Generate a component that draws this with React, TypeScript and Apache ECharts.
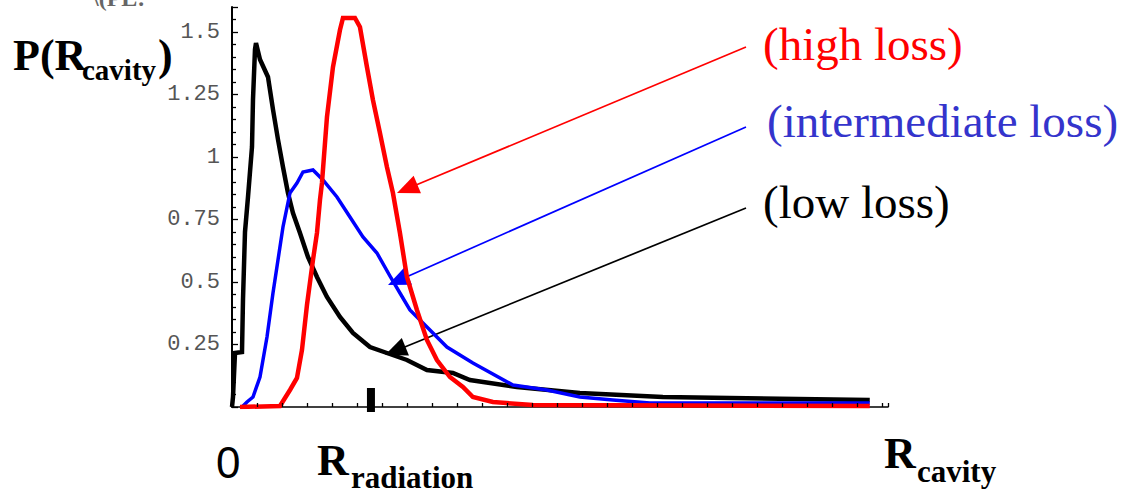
import { useEffect, useRef } from "react";
import * as echarts from "echarts";

// Distributions of the cavity radius P(R_cavity) for three loss regimes.
// x in axis units (R), y in probability density.
const lowLoss: [number, number][] = [
  [0, 0], [0.04, 0.04], [0.12, 0.216], [0.4, 0.22], [0.44, 0.43], [0.52, 0.7],
  [0.64, 0.84], [0.8, 1.04], [0.84, 1.23], [0.92, 1.43], [0.96, 1.456],
  [1.12, 1.39], [1.44, 1.32], [1.64, 1.19], [1.84, 1.07], [2.04, 0.96],
  [2.24, 0.856], [2.44, 0.776], [2.72, 0.696], [3.04, 0.6], [3.4, 0.52],
  [3.8, 0.44], [4.32, 0.36], [4.84, 0.296], [5.52, 0.24], [6.2, 0.216],
  [7.0, 0.188], [7.8, 0.148], [8.84, 0.136], [9.52, 0.108], [11.4, 0.08],
  [13.92, 0.056], [17.24, 0.04], [19.92, 0.036], [25.52, 0.028],
];

const intermediateLoss: [number, number][] = [
  [0.4, 0], [0.6, 0.02], [0.84, 0.04], [1.12, 0.12], [1.4, 0.28], [1.64, 0.456],
  [1.84, 0.588], [2.04, 0.72], [2.32, 0.856], [2.6, 0.896], [2.84, 0.94],
  [3.24, 0.948], [3.64, 0.908], [4.2, 0.84], [4.72, 0.76], [5.24, 0.68],
  [5.8, 0.616], [6.32, 0.524], [6.72, 0.456], [7.12, 0.388], [7.64, 0.336],
  [8.6, 0.24], [9.64, 0.176], [11.24, 0.088], [12.6, 0.068], [13.92, 0.04],
  [15.24, 0.028], [16.72, 0.016], [25.52, 0.016],
];

const highLoss: [number, number][] = [
  [0.32, 0], [1.92, 0.004], [2.32, 0.068], [2.6, 0.116], [2.8, 0.228],
  [3.0, 0.408], [3.24, 0.588], [3.4, 0.696], [3.52, 0.828], [3.6, 0.896],
  [3.8, 1.16], [4.04, 1.36], [4.32, 1.508], [4.44, 1.556], [4.92, 1.556],
  [5.12, 1.52], [5.4, 1.36], [5.64, 1.228], [5.92, 1.096], [6.2, 0.96],
  [6.44, 0.856], [6.72, 0.696], [7.0, 0.52], [7.4, 0.388], [7.8, 0.268],
  [8.2, 0.188], [8.72, 0.12], [9.24, 0.08], [9.64, 0.04], [10.44, 0.02],
  [12.04, 0.008], [25.52, 0.004],
];

// Position of the radiation radius marker on the R axis
const radiationR = 5.56;

const yTickLabels = [0.25, 0.5, 0.75, 1, 1.25, 1.5];

const X_MAX = 26.25;
const Y_MAX = 1.6;

const SERIF = "'Liberation Serif', 'Times New Roman', serif";
const SANS = "'Liberation Sans', Arial, sans-serif";
const MONO = "'Liberation Mono', 'Courier New', monospace";

const PLOT = { left: 232, top: 7, width: 656, height: 400 };

// Place a text so that its alphabetic baseline sits at `baseline`
function label(
  text: string,
  x: number,
  baseline: number,
  size: number,
  opts: { family?: string; weight?: string; fill?: string; shift?: number } = {}
) {
  const shift = opts.shift ?? 0.3375;
  return {
    type: "text",
    x,
    y: baseline - shift * size,
    silent: true,
    style: {
      text,
      fontSize: size,
      fontFamily: opts.family ?? SERIF,
      fontWeight: opts.weight ?? "normal",
      fill: opts.fill ?? "#000",
      align: "left",
      verticalAlign: "middle",
      textAlign: "left",
      textVerticalAlign: "middle",
    },
  };
}

function arrow(from: [number, number], tip: [number, number], color: string) {
  const dx = tip[0] - from[0];
  const dy = tip[1] - from[1];
  const len = Math.hypot(dx, dy);
  const ux = dx / len;
  const uy = dy / len;
  const headLen = 22;
  const headHalf = 9.5;
  const bx = tip[0] - ux * headLen;
  const by = tip[1] - uy * headLen;
  const nx = -uy;
  const ny = ux;
  return [
    {
      type: "line",
      silent: true,
      shape: { x1: from[0], y1: from[1], x2: bx + ux * 2, y2: by + uy * 2 },
      style: { stroke: color, lineWidth: 1.7 },
    },
    {
      type: "polygon",
      silent: true,
      shape: {
        points: [
          [tip[0], tip[1]],
          [bx + nx * headHalf, by + ny * headHalf],
          [bx - nx * headHalf, by - ny * headHalf],
        ],
      },
      style: { fill: color },
    },
  ];
}

export default function App() {
  const ref = useRef<HTMLDivElement>(null);

  useEffect(() => {
    if (!ref.current) return;
    const chart = echarts.init(ref.current, undefined, { renderer: "svg" });

    const curve = (name: string, data: [number, number][], color: string, width: number) => ({
      name,
      type: "line",
      data,
      showSymbol: false,
      symbol: "none",
      silent: true,
      lineStyle: { color, width, join: "miter" },
      z: 3,
    });

    const tickStyle = { color: "#000", width: 1.3 };

    chart.setOption({
      animation: false,
      backgroundColor: "#fff",
      grid: [
        // plotting area
        { ...PLOT, containLabel: false },
        // thin strip left of the plot: its right-hand axis carries the y ticks
        { left: PLOT.left - 30, top: PLOT.top, width: 30, height: PLOT.height, containLabel: false },
        // thin strip below the plot: its top axis carries the x ticks
        { left: PLOT.left, top: PLOT.top + PLOT.height, width: PLOT.width, height: 20, containLabel: false },
      ],
      xAxis: [
        {
          gridIndex: 0,
          type: "value",
          min: 0,
          max: X_MAX,
          interval: 1,
          axisLine: { show: true, onZero: false, lineStyle: { color: "#000", width: 1.6 } },
          axisTick: { show: false },
          axisLabel: { show: false },
          splitLine: { show: false },
        },
        { gridIndex: 1, type: "value", show: false, min: 0, max: 1 },
        {
          gridIndex: 2,
          type: "value",
          position: "top",
          z: 10,
          min: 0,
          max: X_MAX,
          interval: 1,
          axisLine: { show: false, onZero: false },
          axisTick: { show: true, inside: false, length: 4, lineStyle: tickStyle },
          axisLabel: { show: false },
          splitLine: { show: false },
        },
      ],
      yAxis: [
        {
          gridIndex: 0,
          type: "value",
          min: 0,
          max: Y_MAX,
          interval: 0.25,
          axisLine: { show: true, onZero: false, lineStyle: { color: "#000", width: 2 } },
          axisTick: { show: false },
          axisLabel: {
            margin: 12,
            fontFamily: MONO,
            fontSize: 22,
            color: "#555",
            formatter: (v: number) =>
              yTickLabels.some((t) => Math.abs(t - v) < 1e-9) ? String(v) : "",
          },
          splitLine: { show: false },
        },
        {
          gridIndex: 1,
          type: "value",
          position: "right",
          z: 10,
          min: 0,
          max: Y_MAX,
          interval: 0.25,
          axisLine: { show: false, onZero: false },
          axisTick: { show: true, inside: false, length: 6, lineStyle: tickStyle },
          minorTick: { show: true, splitNumber: 5, length: 4, lineStyle: tickStyle },
          axisLabel: { show: false },
          splitLine: { show: false },
        },
        { gridIndex: 2, type: "value", show: false, min: 0, max: 1 },
      ],
      series: [
        curve("low loss", lowLoss, "#000000", 4.5),
        curve("intermediate loss", intermediateLoss, "#0000ff", 3.5),
        curve("high loss", highLoss, "#ff0000", 4.5),
        {
          name: "R radiation",
          type: "line",
          data: [
            [radiationR, -0.02],
            [radiationR, 0.076],
          ],
          symbol: "none",
          silent: true,
          clip: false,
          lineStyle: { color: "#000", width: 8, cap: "butt" },
          z: 4,
        },
      ],
      graphic: [
        // clipped remnant of an axis caption at the top edge
        label("\\(PL:", 92, 6, 24, { weight: "bold", fill: "#666" }),
        // vertical axis caption
        label("P(R", 13, 70, 44, { weight: "bold" }),
        label("cavity", 82, 80, 29, { weight: "bold" }),
        label(")", 158, 70, 44, { weight: "bold" }),
        // horizontal axis captions
        label("0", 216, 478, 44, { family: SANS, shift: 0.3465 }),
        label("R", 317, 475, 44, { weight: "bold" }),
        label("radiation", 351, 488, 31, { weight: "bold" }),
        label("R", 884, 468, 44, { weight: "bold" }),
        label("cavity", 917, 482, 31, { weight: "bold" }),
        // curve annotations
        label("(high loss)", 763, 60, 47, { fill: "#ff0000" }),
        label("(intermediate loss)", 767, 137, 47, { fill: "#3434cc" }),
        label("(low loss)", 763, 218, 47, { fill: "#000" }),
        ...arrow([746, 47], [397, 193], "#ff0000"),
        ...arrow([746, 127], [388, 285], "#0000ff"),
        ...arrow([746, 208], [385, 355], "#000000"),
      ],
    });

    return () => chart.dispose();
  }, []);

  return (
    <div
      ref={ref}
      style={{ position: "absolute", left: 0, top: 0, width: 1122, height: 495, background: "#fff" }}
    />
  );
}
